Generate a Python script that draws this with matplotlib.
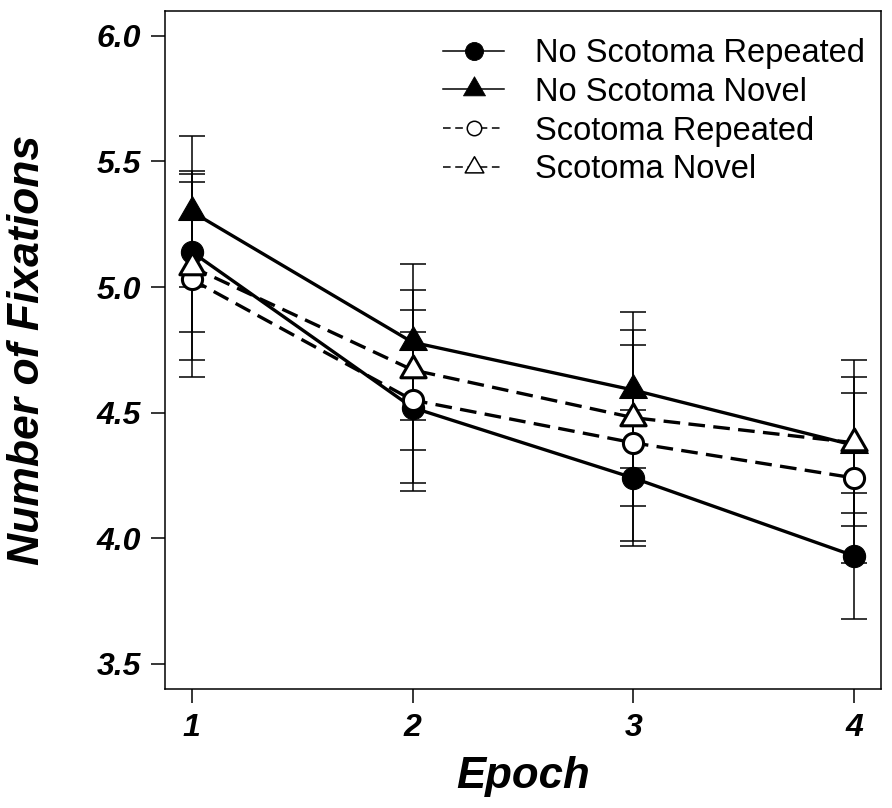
import numpy as np
import matplotlib.pyplot as plt
from matplotlib.path import Path

epochs = [1, 2, 3, 4]
labels = ["No Scotoma Repeated", "No Scotoma Novel", "Scotoma Repeated", "Scotoma Novel"]

no_scot_rep = [5.14, 4.52, 4.24, 3.93]
no_scot_nov = [5.30, 4.78, 4.59, 4.37]
scot_rep = [5.03, 4.55, 4.38, 4.24]
scot_nov = [5.08, 4.67, 4.48, 4.38]

no_scot_rep_err = [0.32, 0.30, 0.27, 0.25]
no_scot_nov_err = [0.30, 0.31, 0.31, 0.27]
scot_rep_err = [0.39, 0.36, 0.39, 0.34]
scot_nov_err = [0.37, 0.32, 0.35, 0.33]

yticks = [3.5, 4.0, 4.5, 5.0, 5.5, 6.0]

plt.rcParams["font.family"] = ["Liberation Sans", "DejaVu Sans"]

# R style triangle, centroid on the data point
tri = Path([(-1.0, -0.577), (1.0, -0.577), (0.0, 1.155), (-1.0, -0.577)],
           [Path.MOVETO, Path.LINETO, Path.LINETO, Path.CLOSEPOLY])

series = [
    (no_scot_rep, no_scot_rep_err, "o", "black", "-", 16, 0.8),
    (no_scot_nov, no_scot_nov_err, tri, "black", "-", 23, 0.8),
    (scot_rep, scot_rep_err, "o", "white", "--", 14.5, 2.2),
    (scot_nov, scot_nov_err, tri, "white", "--", 21, 2.2),
]

fig = plt.figure(figsize=(8.92, 8.08), dpi=100)
ax = fig.add_axes([0.185, 0.1473, 0.8024, 0.8395])

for vals, err, *_ in series:
    ax.errorbar(epochs, vals, yerr=err, fmt="none", ecolor="black",
                elinewidth=1.1, capsize=9.5, capthick=1.1, zorder=2)

for i, (vals, err, mk, fc, ls, ms, mew) in enumerate(series):
    line, = ax.plot(epochs, vals, color="black", lw=2.4, linestyle=ls,
                    marker=mk, markersize=ms, markerfacecolor=fc,
                    markeredgecolor="black", markeredgewidth=mew,
                    label=labels[i], zorder=3 + i)
    if ls == "--":
        line.set_dashes((5, 2.5))

ax.set_xlim(0.879, 4.121)
ax.set_ylim(3.40, 6.10)
ax.set_xticks(epochs)
ax.set_yticks(yticks)
ax.set_xticklabels([str(e) for e in epochs])
ax.set_yticklabels(["%.1f" % v for v in yticks])
for lab in ax.get_xticklabels() + ax.get_yticklabels():
    lab.set_fontsize(23)
    lab.set_fontweight("bold")
    lab.set_fontstyle("italic")
ax.tick_params(direction="out", length=10, width=1.1, pad=7.5)
for sp in ax.spines.values():
    sp.set_linewidth(1.1)

ax.set_xlabel("Epoch", fontsize=31.5, fontweight="bold", fontstyle="italic", labelpad=9.5)
ax.set_ylabel("Number of Fixations", fontsize=32, fontweight="bold", fontstyle="italic", labelpad=35)

leg = ax.legend(loc="upper left", bbox_to_anchor=(443 / 892, 1 - 38 / 808),
                bbox_transform=fig.transFigure, frameon=False, fontsize=23.5,
                borderpad=0, borderaxespad=0, handlelength=1.88,
                handletextpad=0.95, labelspacing=0.24)
leg_sizes = [13, 18.3, 10.4, 15.5]
leg_mew = [0.6, 0.6, 1.1, 1.1]
for h, s, w, (_, _, _, _, ls, _, _) in zip(leg.legend_handles, leg_sizes, leg_mew, series):
    h.set_linewidth(1.1)
    h.set_markersize(s)
    h.set_markeredgewidth(w)
    if ls == "--":
        h.set_dashes((5.0, 3.0))

plt.savefig("out.png", dpi=100)
plt.close()
